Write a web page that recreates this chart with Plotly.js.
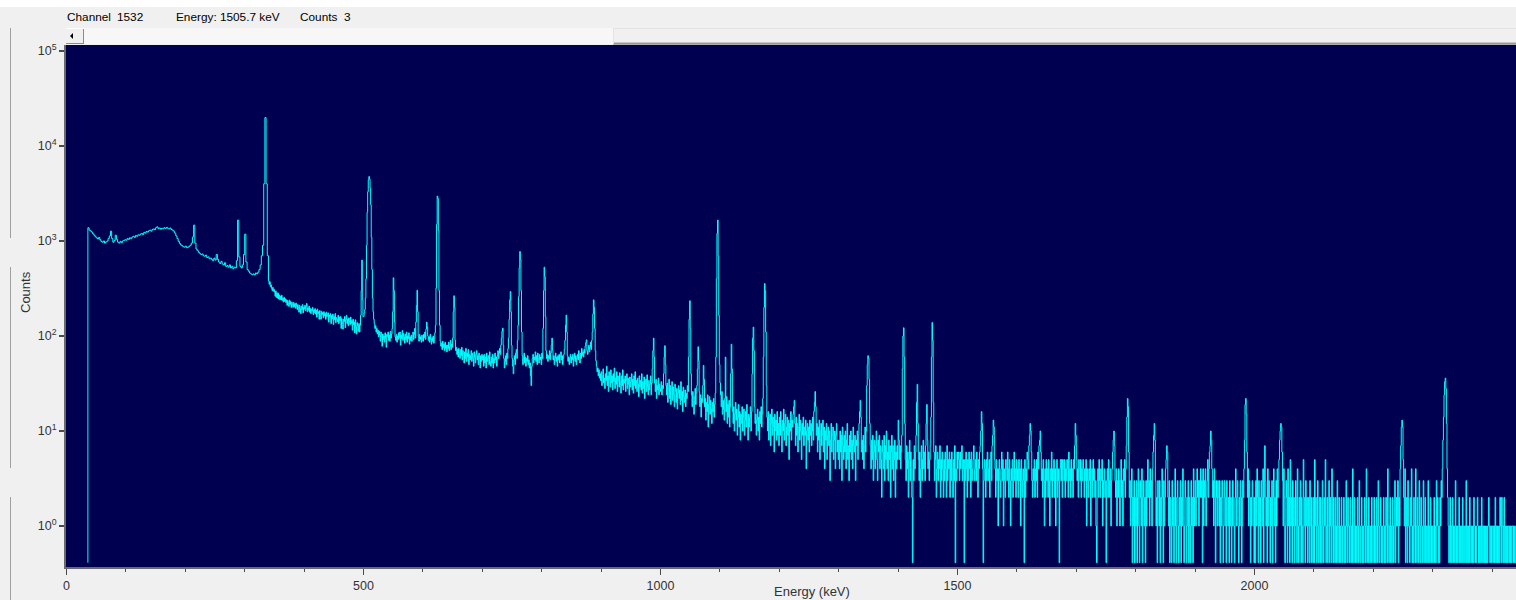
<!DOCTYPE html>
<html>
<head>
<meta charset="utf-8">
<script src="https://cdn.plot.ly/plotly-3.0.1.min.js"></script>
<style>
html,body{margin:0;padding:0;background:#f0f0f0;overflow:hidden}
#chart{width:1516px;height:600px}
</style>
</head>
<body>
<div id="chart"></div>
<script>
// ---- spectrum data ----
// each segment: start energy (keV), bin width (keV), counts per bin
const segStart = [36,100,200,300,340,400,500,600,700,800,900,1000,1100,1200,1300,1400,1500,1600,1700,1800,1900,2000,2100,2200,2300,2400];
const segBin   = [2,2,2,2,1,1,1,1,1,1,1,1,1,1,1,1,1,1,1,1,1,1,1,1,1,1];
const spectrumEnd = 2440;

const c0036 = [1380,1300,1270,1240,1190,1150,1110,1080,1050,1090,
1030,990,970,1000,950,980,1000,1060,1130,1270,
1060,970,1010,1150,1040,970,950,990,960,1000,
1010,1030];
const c0100 = [1020,1060,1040,1080,1060,1100,1120,1090,1140,1120,
1160,1150,1180,1200,1170,1230,1210,1260,1240,1280,
1300,1270,1320,1340,1310,1380,1410,1350,1370,1330,
1360,1340,1380,1350,1390,1360,1340,1370,1320,1300,
1270,1210,1130,1060,990,940,910,890,870,860];
const c0200 = [880,850,860,880,900,950,1100,1470,950,820,
790,760,740,720,730,700,690,710,670,680,
650,660,640,620,660,630,720,640,600,580,
610,570,560,590,540,550,530,560,520,540,
510,530,520,620,1660,680,540,520,560,720];
const c0300 = [1180,600,500,480,460,450,440,450,440,460,
450,470,500,560,700,900,4000,19900,4000,700];
const c0340 = [380,350,372,330,345,318,300,325,296,310,
290,262,298,255,285,250,282,245,270,240,
262,240,268,236,250,228,255,232,246,225,
240,210,236,222,205,238,215,230,200,226,
212,200,225,204,218,196,222,205,190,214,
200,178,210,195,172,206,190,214,175,200];
const c0400 = [192,210,184,205,220,180,198,186,206,178,
195,172,190,184,200,168,188,176,194,170,
186,158,192,172,180,150,185,170,150,182,
168,176,155,180,162,172,150,178,160,168,
175,140,166,158,172,135,164,152,170,132,
160,148,172,138,156,150,142,165,135,158,
145,160,120,152,140,118,150,142,160,122,
148,165,135,150,128,155,140,132,158,136,
145,115,150,132,140,108,148,125,105,138,
128,112,135,110,130,165,300,630,240,160];
const c0500 = [160,175,190,250,400,900,2000,3300,4400,4770,
4500,3600,2400,1100,500,250,180,150,135,120,
128,110,120,105,115,98,112,102,88,110,
96,78,105,92,100,86,108,94,76,104,
98,110,90,102,88,112,95,105,120,180,
410,300,140,98,90,104,86,100,92,108,
96,110,80,102,94,114,90,106,98,84,
104,92,110,86,100,94,108,82,98,90,
102,88,96,110,92,104,120,95,140,210,
303,180,100,88,104,92,98,86,102,90];
const c0600 = [88,104,96,110,92,118,140,125,100,90,
98,86,104,92,82,96,88,100,84,94,
108,130,320,1500,2970,2800,1300,300,130,88,
78,84,72,88,76,82,70,86,74,80,
68,80,74,86,70,78,90,72,82,76,
95,180,265,200,90,70,76,64,72,60,
74,66,58,72,62,76,56,70,64,52,
68,58,74,54,66,60,72,50,64,56,
62,70,54,66,58,48,68,60,52,64,
70,56,62,50,66,58,46,62,54,64];
const c0700 = [56,62,48,64,52,60,46,66,54,58,
62,50,68,54,48,60,52,64,46,58,
52,66,56,60,48,62,70,58,66,74,
64,80,95,112,121,80,58,46,54,62,
50,66,58,74,95,150,240,294,180,80,
58,48,40,56,62,50,66,72,58,90,
130,260,520,775,640,300,110,62,50,58,
66,52,60,48,58,54,62,50,56,46,
52,38,30,48,58,64,52,60,56,68,
54,62,50,66,58,52,64,56,60,50];
const c0800 = [66,58,120,300,530,420,160,70,58,64,
54,62,58,70,56,66,80,95,70,56,
62,50,58,66,54,60,48,62,56,64,
52,60,68,56,62,50,58,64,72,90,
130,166,110,62,54,60,50,58,64,52,
60,56,64,48,58,66,54,62,50,58,
64,56,70,60,52,66,58,74,62,68,
60,72,66,78,85,91,70,64,72,80,
68,76,86,72,90,110,170,240,200,120,
70,55,48,42,46,38,44,36,40,34];
const c0900 = [42,30,38,45,32,36,28,40,34,48,
30,38,26,42,35,29,44,32,38,27,
40,33,46,28,36,31,42,26,38,34,
29,41,33,25,38,30,44,27,35,32,
38,26,34,40,28,36,31,24,37,29,
33,40,27,35,25,38,30,42,28,34,
26,36,31,23,38,29,34,27,40,25,
33,28,37,22,31,35,26,39,29,24,
34,27,31,38,24,32,45,70,95,60,
32,26,35,22,30,27,36,24,31,28];
const c1000 = [26,33,24,30,28,40,60,79,50,30,
24,32,20,28,35,22,30,19,27,33,
21,29,24,18,31,26,20,28,17,25,
30,22,27,19,33,21,26,16,29,23,
20,27,18,25,22,30,26,60,150,235,
120,40,24,18,26,20,15,23,28,19,
25,30,45,77,55,26,18,24,14,22,
20,30,49,35,18,22,13,20,16,24,
11,19,23,15,21,17,12,20,16,22,
14,19,25,60,400,1200,1660,700,165,50];
const c1100 = [32,24,18,26,15,21,17,13,22,60,
16,23,12,19,14,21,11,18,40,82,
45,16,12,18,10,15,20,13,17,9,
14,19,11,16,8,15,12,18,10,14,
17,9,13,16,11,19,12,8,15,11,
14,18,10,16,40,95,124,70,18,12,
15,9,13,17,10,14,8,16,12,18,
11,15,22,60,200,357,300,110,30,14,
10,16,8,13,15,7,12,17,9,14,
11,6,15,10,13,8,16,9,12,7];
const c1200 = [14,9,16,11,6,13,10,17,8,12,
15,7,11,14,9,13,5,12,10,16,
8,13,11,15,18,21,12,7,14,9,
12,6,11,15,8,13,10,5,12,9,
14,7,11,9,13,4,10,12,8,11,
6,13,9,12,7,10,14,8,16,20,
26,18,9,12,6,11,8,13,5,10,
12,7,9,13,6,11,4,10,8,12,
5,9,11,7,10,3,8,12,6,9,
11,5,8,10,4,9,12,6,8,5];
const c1300 = [8,4,10,6,9,3,11,7,5,9,
6,10,4,8,12,5,7,3,9,6,
10,5,8,4,11,7,6,9,3,8,
7,10,5,9,12,16,21,14,6,8,
5,9,4,7,11,6,10,30,50,62,
58,35,12,7,4,8,5,9,3,6,
8,4,7,10,5,3,8,6,9,4,
7,5,2,8,6,4,9,3,7,5,
10,4,6,3,8,5,7,2,6,9,
4,7,3,5,8,2,6,4,7,5];
const c1400 = [13,8,5,7,4,6,9,45,100,122,
60,12,5,3,7,4,6,2,5,8,
3,6,4,2,0,5,3,7,4,6,
9,20,31,12,5,3,6,2,4,7,
3,5,8,4,6,3,7,12,19,8,
4,6,3,5,7,14,60,139,90,20,
6,3,5,7,2,4,6,3,5,4,
7,2,5,3,6,4,2,5,3,6,
4,2,7,3,5,4,6,2,5,3,
6,4,2,5,3,7,0,4,3,6];
const c1500 = [4,6,5,3,6,4,5,7,3,5,
4,0,5,3,6,4,2,5,3,6,
4,5,2,6,3,4,5,7,3,4,
5,3,6,4,2,5,4,6,7,10,
16,12,4,0,3,5,4,2,5,3,
6,4,3,5,2,4,6,3,7,9,
13,11,5,4,2,5,3,4,1,4,
5,3,2,4,6,3,5,1,4,3,
2,5,4,3,6,4,2,5,3,1,
4,3,5,2,4,6,3,4,2,5];
const c1600 = [3,4,2,5,3,4,1,5,3,2,
4,3,0,5,2,4,3,6,5,4,
7,9,12,10,6,3,2,4,3,5,
2,4,3,5,2,6,4,7,8,10,
6,3,4,2,5,3,1,4,2,5,
3,4,2,5,3,1,4,3,6,2,
4,3,5,2,4,1,3,5,2,4,
3,0,4,5,3,5,2,5,4,3,
5,2,4,3,5,4,2,6,3,4,
2,5,3,4,2,5,4,7,12,9];
const c1700 = [5,3,4,2,5,4,3,5,2,4,
3,5,4,2,4,3,5,1,4,3,
2,4,3,5,1,3,4,2,5,3,
4,2,3,1,0,3,4,2,5,3,
2,4,3,5,1,3,2,4,3,2,
0,3,4,2,5,3,2,4,1,3,
4,6,8,10,7,3,2,4,1,3,
2,4,3,1,3,5,2,3,1,4,
3,5,2,4,7,14,22,18,6,2,
3,1,2,4,0,2,1,3,0,2];
const c1800 = [1,3,0,2,4,1,0,3,2,1,
4,0,2,3,1,2,0,3,1,2,
5,2,3,1,4,2,3,1,4,6,
9,12,8,3,1,2,0,3,2,1,
3,0,2,1,4,2,0,3,1,2,
4,5,7,6,2,1,3,0,2,1,
0,3,1,2,0,2,4,1,0,2,
3,1,0,2,1,3,0,2,1,4,
2,0,1,3,2,0,1,2,3,0,
2,1,0,3,1,2,0,4,1,2];
const c1900 = [3,1,2,4,2,3,1,3,2,4,
2,3,0,4,1,3,2,4,1,2,
3,5,2,4,6,7,10,8,4,2,
3,1,4,2,0,3,2,1,3,2,
1,3,0,2,1,3,2,0,1,3,
2,1,0,3,2,1,2,0,3,1,
2,0,1,3,2,1,0,2,4,1,
2,3,1,0,2,1,3,2,0,1,
3,2,4,8,19,22,15,6,2,4,
1,3,2,0,2,1,3,2,1,0];
const c2000 = [2,0,3,1,4,2,0,3,1,2,
0,3,2,1,4,0,2,7,3,1,
2,0,4,1,3,2,0,2,1,3,
0,2,4,1,2,0,3,1,4,2,
3,5,8,10,12,11,6,3,1,4,
2,0,1,3,2,0,4,1,2,0,
5,1,2,0,3,1,2,0,1,3,
2,0,4,1,0,2,1,3,0,2,
1,0,5,2,1,0,3,1,2,0,
1,2,0,3,1,0,2,1,0,2];
const c2100 = [0,5,1,2,0,1,3,0,1,2,
0,2,1,0,3,1,0,2,1,5,
0,1,2,0,1,3,0,2,1,0,
4,1,0,2,1,0,2,0,1,3,
0,1,2,0,1,0,2,1,0,1,
2,0,1,0,3,1,0,2,1,0,
1,2,0,1,0,4,1,0,2,1,
0,1,0,2,1,0,3,1,0,1,
2,0,1,0,1,2,0,1,4,0,
1,0,2,1,0,1,0,2,1,0];
const c2200 = [1,2,0,1,0,2,1,0,3,1,
0,1,2,0,1,0,1,2,0,1,
0,2,1,0,4,1,0,1,2,0,
1,0,2,1,0,1,3,0,1,2,
1,3,0,2,1,4,7,11,13,11,
5,2,1,4,0,1,2,0,3,1,
1,0,2,1,4,0,1,0,2,1,
0,4,1,0,2,1,0,3,1,0,
2,1,0,1,3,0,1,2,0,1,
0,1,3,0,1,0,2,1,0,1];
const c2300 = [0,1,2,0,1,0,3,1,2,0,
1,0,2,1,3,2,4,8,14,24,
33,36,28,12,4,2,1,0,1,2,
0,1,0,2,1,0,1,0,3,1,
0,1,0,1,2,0,1,0,1,0,
2,1,0,1,0,1,3,0,1,0,
1,0,2,1,0,1,0,1,0,2,
1,0,1,0,1,2,1,0,1,0,
1,0,2,1,0,1,0,1,0,1,
0,1,0,1,2,1,0,1,0,1];
const c2400 = [1,0,1,0,1,2,0,1,0,1,
0,1,0,2,1,0,2,1,0,1,
2,0,1,0,1,0,1,1,0,1,
0,1,0,1,1,0,1,0,1,0];

// tick labels
const yTickVals = [1,10,100,1000,10000,100000];
const yTickText = ['10<sup>0</sup>','10<sup>1</sup>','10<sup>2</sup>','10<sup>3</sup>','10<sup>4</sup>','10<sup>5</sup>'];

// status bar texts
const statusChannel = '1532';
const statusEnergy = 'Energy: 1505.7 keV';
const statusCounts = '3';

// ---- build trace ----
const segments = [c0036,c0100,c0200,c0300,c0340,c0400,c0500,c0600,c0700,c0800,c0900,c1000,c1100,c1200,c1300,c1400,c1500,c1600,c1700,c1800,c1900,c2000,c2100,c2200,c2300,c2400];
const zeroFloor = 0.41; // zero counts are drawn at the bottom of the log scale
const xs = [], ys = [];
xs.push(segStart[0]); ys.push(zeroFloor);
segments.forEach((seg, s) => {
  seg.forEach((c, i) => {
    xs.push(segStart[s] + i * segBin[s]);
    ys.push(c > 0 ? c : zeroFloor);
  });
});
xs.push(spectrumEnd); ys.push(ys[ys.length - 1]);

const trace = {
  type: 'scatter', mode: 'lines', x: xs, y: ys,
  line: {color: '#00ffff', width: 1, shape: 'hv', simplify: false},
  hoverinfo: 'skip'
};

// ---- page geometry helpers (pixel -> paper) ----
const L = 66, T = 45, W = 1450, H = 522;
const px = x => (x - L) / W;
const py = y => (T + H - y) / H;

const uiFont = {family: 'Liberation Sans, Arial, sans-serif', size: 11.8, color: '#000000'};
const axFont = {family: 'Liberation Sans, Arial, sans-serif', size: 12.5, color: '#333333'};
const titleFont = {family: 'Liberation Sans, Arial, sans-serif', size: 13, color: '#333333'};

const shapes = [
  {type:'rect', xref:'paper', yref:'paper', x0:px(0), x1:px(1516), y0:py(7), y1:py(0), fillcolor:'#ffffff', line:{width:0}, layer:'above'},
  {type:'rect', xref:'paper', yref:'paper', x0:px(84), x1:px(613), y0:py(44), y1:py(28), fillcolor:'#f7f7f7', line:{width:0}, layer:'above'},
  {type:'rect', xref:'paper', yref:'paper', x0:px(613), x1:px(1516), y0:py(44), y1:py(28), fillcolor:'#f0f0f0', line:{width:0}, layer:'above'},
  {type:'line', xref:'paper', yref:'paper', x0:px(613), x1:px(1516), y0:py(28.5), y1:py(28.5), line:{color:'#e3e3e3', width:1}, layer:'above'},
  {type:'line', xref:'paper', yref:'paper', x0:px(613), x1:px(1516), y0:py(43), y1:py(43), line:{color:'#a0a0a0', width:1}, layer:'above'},
  {type:'line', xref:'paper', yref:'paper', x0:px(613), x1:px(1516), y0:py(44), y1:py(44), line:{color:'#696969', width:1}, layer:'above'},
  {type:'line', xref:'paper', yref:'paper', x0:px(613.5), x1:px(613.5), y0:py(44), y1:py(28.5), line:{color:'#e3e3e3', width:1}, layer:'above'},
  {type:'rect', xref:'paper', yref:'paper', x0:px(66), x1:px(84), y0:py(44), y1:py(28), fillcolor:'#f0f0f0', line:{width:0}, layer:'above'},
  {type:'line', xref:'paper', yref:'paper', x0:px(66), x1:px(84), y0:py(43.5), y1:py(43.5), line:{color:'#8a8a8a', width:1}, layer:'above'},
  {type:'line', xref:'paper', yref:'paper', x0:px(83.5), x1:px(83.5), y0:py(44), y1:py(28), line:{color:'#8a8a8a', width:1}, layer:'above'},
  {type:'line', xref:'paper', yref:'paper', x0:px(66), x1:px(84), y0:py(28.5), y1:py(28.5), line:{color:'#ffffff', width:1}, layer:'above'},
  {type:'path', xref:'paper', yref:'paper',
   path:'M '+px(73)+' '+py(33)+' L '+px(73)+' '+py(39)+' L '+px(70)+' '+py(36)+' Z',
   fillcolor:'#000000', line:{width:0}, layer:'above'},
  {type:'line', xref:'paper', yref:'paper', x0:px(10.5), x1:px(10.5), y0:py(238), y1:py(28), line:{color:'#a0a0a0', width:1}, layer:'above'},
  {type:'line', xref:'paper', yref:'paper', x0:px(10.5), x1:px(10.5), y0:py(468), y1:py(267), line:{color:'#a0a0a0', width:1}, layer:'above'},
  {type:'line', xref:'paper', yref:'paper', x0:px(10.5), x1:px(10.5), y0:py(600), y1:py(497), line:{color:'#a0a0a0', width:1}, layer:'above'}
];

const ann = (text, x, y, opts) => Object.assign({
  text: text, xref:'paper', yref:'paper', x: px(x), y: py(y),
  xanchor:'left', yanchor:'middle', showarrow:false, font: uiFont
}, opts || {});

const annotations = [
  ann('Channel', 65, 17),
  ann(statusChannel, 115, 17),
  ann(statusEnergy, 174, 17),
  ann('Counts', 298, 17),
  ann(statusCounts, 342, 17),
  ann('Energy (keV)', 812, 591, {xanchor:'center', font: titleFont}),
  ann('Counts', 25, 292, {xanchor:'center', textangle:-90, font: titleFont})
];

const layout = {
  width: 1516, height: 600,
  margin: {l: L, r: 0, t: T, b: 600 - T - H, pad: 0},
  paper_bgcolor: '#f0f0f0',
  plot_bgcolor: '#000050',
  showlegend: false,
  hovermode: false,
  xaxis: {
    range: [-0.84, 2440.2], tickmode: 'linear', tick0: 0, dtick: 500,
    ticks: 'outside', ticklen: 6, tickwidth: 1, tickcolor: '#4a4a4a',
    showline: true, linecolor: '#6a6a6a', linewidth: 2,
    showgrid: false, zeroline: false, tickfont: axFont,
    minor: {dtick: 100, ticks: 'outside', ticklen: 3, tickwidth: 1, tickcolor: '#4a4a4a', showgrid: false},
    fixedrange: true
  },
  yaxis: {
    type: 'log', range: [-0.432, 5.063],
    tickmode: 'array', tickvals: yTickVals, ticktext: yTickText,
    ticks: 'outside', ticklen: 5, tickwidth: 1.5, tickcolor: '#4a4a4a',
    showline: true, linecolor: '#6a6a6a', linewidth: 2,
    showgrid: false, zeroline: false, tickfont: axFont,
    fixedrange: true
  },
  shapes: shapes,
  annotations: annotations
};

Plotly.newPlot('chart', [trace], layout, {staticPlot: true, displayModeBar: false});
</script>
</body>
</html>
